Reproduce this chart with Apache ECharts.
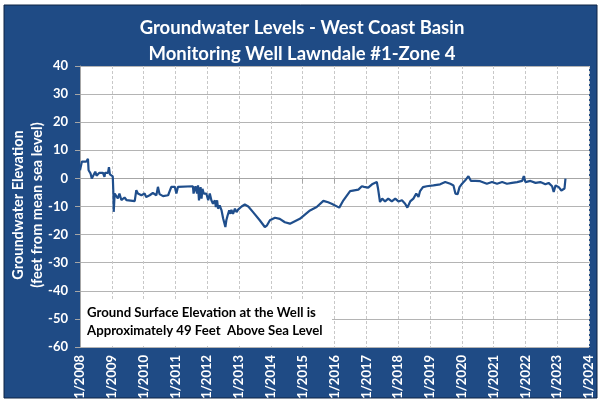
<!DOCTYPE html>
<html>
<head>
<meta charset="utf-8">
<script src="https://cdn.jsdelivr.net/npm/echarts/dist/echarts.min.js"></script>
<style>
  html, body { margin: 0; padding: 0; background: #fff; }
  #chart { width: 600px; height: 400px; }
</style>
</head>
<body>
<div id="chart"></div>
<script>
// measurement dates as decimal years, levels in feet from mean sea level
const years = [
  2008.00, 2008.06, 2008.20, 2008.25, 2008.27, 2008.33, 2008.37, 2008.43, 2008.48, 2008.52,
  2008.56, 2008.61, 2008.67, 2008.72, 2008.77, 2008.79, 2008.88, 2008.91, 2008.94, 2008.98,
  2009.03, 2009.05, 2009.06, 2009.09, 2009.14, 2009.19, 2009.24, 2009.30, 2009.35, 2009.40,
  2009.46, 2009.51, 2009.72, 2009.77, 2009.82, 2009.87, 2009.93, 2010.03, 2010.08, 2010.19,
  2010.29, 2010.40, 2010.45, 2010.50, 2010.61, 2010.77, 2010.87, 2010.98, 2011.03, 2011.08,
  2011.55, 2011.57, 2011.63, 2011.66, 2011.68, 2011.71, 2011.74, 2011.79, 2011.82, 2011.85,
  2011.89, 2011.92, 2011.97, 2012.03, 2012.08, 2012.13, 2012.18, 2012.24, 2012.27, 2012.31,
  2012.34, 2012.39, 2012.45, 2012.50, 2012.53, 2012.57, 2012.60, 2012.64, 2012.69, 2012.73,
  2012.76, 2012.81, 2012.87, 2012.92, 2012.97, 2013.08, 2013.18, 2013.29, 2013.44, 2013.65,
  2013.81, 2013.88, 2013.97, 2014.13, 2014.28, 2014.44, 2014.60, 2014.91, 2015.23, 2015.44,
  2015.65, 2015.80, 2015.91, 2016.15, 2016.28, 2016.49, 2016.75, 2016.86, 2016.93, 2017.06,
  2017.18, 2017.33, 2017.37, 2017.43, 2017.50, 2017.59, 2017.69, 2017.80, 2017.91, 2018.01,
  2018.12, 2018.22, 2018.29, 2018.38, 2018.48, 2018.57, 2018.64, 2018.69, 2018.78, 2018.90,
  2019.11, 2019.32, 2019.48, 2019.64, 2019.74, 2019.80, 2019.87, 2019.93, 2020.01, 2020.11,
  2020.21, 2020.29, 2020.43, 2020.58, 2020.79, 2020.95, 2021.11, 2021.27, 2021.42, 2021.58,
  2021.74, 2021.90, 2021.95, 2022.00, 2022.16, 2022.32, 2022.47, 2022.63, 2022.73, 2022.84,
  2022.89, 2022.95, 2023.05, 2023.13, 2023.19, 2023.23, 2023.26
];
const levels = [
  2.9, 6.0, 6.0, 7.0, 2.9, 1.8, 0.0, 0.6, 2.4, 1.0,
  0.6, 2.0, 1.7, 2.0, 0.6, 2.0, 2.0, 4.0, 1.4, 1.7,
  0.7, -5.4, -11.9, -5.4, -6.0, -7.1, -5.4, -7.7, -7.7, -6.8,
  -7.7, -8.1, -8.1, -4.2, -5.4, -5.4, -6.0, -5.4, -6.6, -6.0,
  -5.2, -6.0, -3.0, -5.6, -6.3, -6.0, -3.0, -3.0, -5.4, -3.0,
  -2.8, -5.4, -2.8, -2.8, -5.4, -2.5, -7.8, -3.1, -7.2, -3.7,
  -5.4, -4.8, -5.4, -7.8, -5.4, -7.8, -9.0, -7.8, -10.2, -7.8,
  -10.8, -9.6, -11.4, -14.3, -14.9, -17.3, -14.9, -13.2, -11.4, -12.6,
  -11.2, -12.6, -10.8, -12.0, -11.1, -10.0, -9.3, -10.0, -12.0, -14.9,
  -17.3, -16.7, -14.9, -14.0, -14.4, -15.6, -16.1, -14.4, -11.4, -10.2,
  -8.0, -8.5, -9.0, -10.4, -7.8, -4.5, -4.0, -2.8, -3.0, -3.3,
  -2.1, -1.3, -3.7, -8.4, -7.2, -8.2, -7.2, -8.2, -7.2, -8.2,
  -7.8, -9.0, -10.4, -8.2, -7.2, -5.4, -6.6, -4.5, -3.1, -2.8,
  -2.5, -2.1, -1.3, -1.9, -2.5, -5.4, -5.6, -3.1, -1.9, -0.7,
  0.8, -0.9, -0.9, -1.0, -1.9, -1.3, -1.9, -1.3, -1.9, -1.6,
  -1.3, -0.9, 0.8, -1.3, -0.9, -1.6, -1.3, -2.1, -1.6, -2.8,
  -4.8, -2.5, -3.1, -4.3, -4.8, -3.6, -0.1
];
const yTicks = [-60, -50, -40, -30, -20, -10, 0, 10, 20, 30, 40];
const xTickYears = [2008, 2009, 2010, 2011, 2012, 2013, 2014, 2015, 2016,
  2017, 2018, 2019, 2020, 2021, 2022, 2023, 2024];

const blue = "#1f4b85";
const font = "Lato";

const chart = echarts.init(document.getElementById("chart"));
const option = {
  backgroundColor: "#ffffff",
  animation: false,
  title: {
    text: "Groundwater Levels - West Coast Basin\nMonitoring Well Lawndale #1-Zone 4",
    left: 297,
    top: 10,
    textAlign: "center",
    textStyle: {
      color: "#ffffff",
      fontFamily: font,
      fontWeight: "bold",
      fontSize: 18.5,
      lineHeight: 26,
    },
  },
  graphic: [
    {
      type: "rect",
      z: -10,
      shape: { x: 4, y: 5, width: 593, height: 393 },
      style: { fill: blue, stroke: "#0e2444", lineWidth: 1 },
    },
    {
      // y axis title, two rotated lines
      type: "text",
      x: 28,
      y: 205,
      rotation: Math.PI / 2,
      style: {
        text: "Groundwater Elevation\n(feet from mean sea level)",
        fill: "#ffffff",
        font: "bold 14.5px " + font,
        align: "center",
        verticalAlign: "middle",
        lineHeight: 19,
      },
    },
    {
      type: "rect",
      z: 5,
      shape: { x: 81, y: 300, width: 251, height: 46 },
      style: { fill: "#ffffff" },
    },
    {
      type: "text",
      z: 6,
      left: 87,
      top: 304,
      style: {
        text: "Ground Surface Elevation at the Well is\nApproximately 49 Feet  Above Sea Level",
        fill: "#000000",
        font: "bold 13.2px " + font,
        lineHeight: 18,
      },
    },
  ],
  grid: {
    left: 80,
    right: 11,
    top: 66,
    bottom: 53,
    outerBoundsMode: "none",
    containLabel: false,
    show: true,
    backgroundColor: "#ffffff",
    borderWidth: 0,
  },
  xAxis: {
    type: "value",
    min: xTickYears[0],
    max: xTickYears[xTickYears.length - 1],
    interval: 1,
    axisLine: { show: true, lineStyle: { color: "#a6a6a6" } },
    axisTick: { show: true, length: 5, lineStyle: { color: "#a6a6a6" } },
    axisLabel: {
      rotate: 90,
      margin: 8,
      color: "#ffffff",
      fontFamily: font,
      fontWeight: "bold",
      fontSize: 13,
      formatter: (v) => "1/" + v,
    },
    splitLine: {
      show: true,
      lineStyle: { color: "#c8c8c8", type: [3, 2], width: 1 },
    },
  },
  yAxis: {
    type: "value",
    min: yTicks[0],
    max: yTicks[yTicks.length - 1],
    interval: 10,
    axisLine: { show: true, lineStyle: { color: "#a6a6a6" } },
    axisTick: { show: true, length: 5, lineStyle: { color: "#a6a6a6" } },
    axisLabel: {
      margin: 12,
      color: "#ffffff",
      fontFamily: font,
      fontWeight: "bold",
      fontSize: 13,
    },
    splitLine: { show: true, lineStyle: { color: "#b4b4b4", width: 1 } },
  },
  series: [
    {
      type: "line",
      data: years.map((y, i) => [y, levels[i]]),
      showSymbol: false,
      symbol: "none",
      lineStyle: { color: "#1f4e8c", width: 2.2 },
      z: 3,
    },
  ],
};
chart.setOption(option);
</script>
</body>
</html>
